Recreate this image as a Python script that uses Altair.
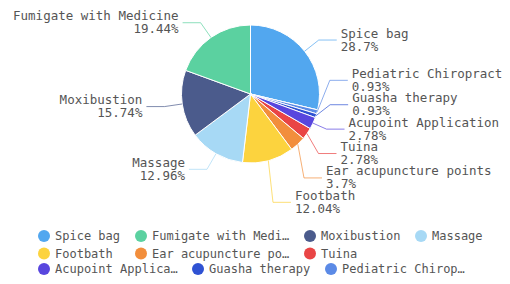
import math
import altair as alt
import pandas as pd

# ---- data ----
names = ["Spice bag", "Fumigate with Medicine", "Moxibustion", "Massage", "Footbath",
         "Ear acupuncture points", "Tuina", "Acupoint Application", "Guasha therapy",
         "Pediatric Chiropractic"]
percents = [28.7, 19.44, 15.74, 12.96, 12.04, 3.7, 2.78, 2.78, 0.93, 0.93]
colors = ["#52a7ef", "#5bd1a0", "#4b5b8c", "#a7d9f5", "#fcd33e",
          "#f28e3c", "#e94545", "#5846de", "#2f52d3", "#5b8ae6"]

# ---- layout constants ----
W, H = 494, 268
CX, CY, R = 242.5, 86.0, 69.0
LEN1, LEN2, GAP = 18.0, 18.0, 4.0
BLOCK = 24.4          # height of a two-line label block
ELLIPSE_RA = R + 11   # horizontal radius used when shifted labels are re-aligned
FONT = "DejaVu Sans Mono"
TEXT_COLOR = "#555555"

n = len(names)
total = sum(percents)
draw_order = [(-i) % n for i in range(n)]  # Spice bag first, then the rest reversed (clockwise)

df = pd.DataFrame({"name": names, "pct": percents, "ord": draw_order})
df["pct_label"] = [f"{v:g}%" for v in percents]
df = df.sort_values("ord").reset_index(drop=True)
df["t1"] = df["pct"].cumsum()
df["t0"] = df["t1"] - df["pct"]

rows = []
for _, r in df.iterrows():
    a = (r.t0 + r.t1) / 2 / total * 2 * math.pi
    s, c = math.sin(a), math.cos(a)
    rows.append(dict(name=r["name"], sx=CX + R * s, sy=CY - R * c,
                     dir=1 if s >= 0 else -1,
                     lx=CX + (R + LEN1) * s, ly0=CY - (R + LEN1) * c))
lab = pd.DataFrame(rows)


def spread(ys, h):
    clusters = [[y] for y in ys]
    def bounds(cl):
        m = sum(cl) / len(cl)
        return m - (len(cl) - 1) * h / 2, m + (len(cl) - 1) * h / 2
    merged = True
    while merged:
        merged = False
        for k in range(len(clusters) - 1):
            if bounds(clusters[k + 1])[0] - bounds(clusters[k])[1] < h:
                clusters[k] = clusters[k] + clusters[k + 1]
                del clusters[k + 1]
                merged = True
                break
    out = []
    for cl in clusters:
        m = sum(cl) / len(cl)
        for j in range(len(cl)):
            out.append(m + (j - (len(cl) - 1) / 2) * h)
    return out


lab["ly"] = lab["ly0"]
lab["x1"] = lab["lx"]
for side in (1, -1):
    idx = lab.index[lab["dir"] == side]
    sub = lab.loc[idx].sort_values("ly0")
    new_y = spread(list(sub["ly0"]), BLOCK)
    lab.loc[sub.index, "ly"] = new_y
    moved = [i for i in sub.index if abs(lab.at[i, "ly"] - lab.at[i, "ly0"]) > 0.01]
    if not moved:
        continue
    for semi in (True, False):
        members = [i for i in sub.index if (lab.at[i, "ly"] > CY) == semi]
        if not members:
            continue
        ext = max(members, key=lambda i: abs(lab.at[i, "ly"] - CY))
        dy = abs(lab.at[ext, "ly"] - CY)
        dx0 = abs(lab.at[ext, "lx"] - CX)
        rB = dy / math.sqrt(1 - dx0 ** 2 / ELLIPSE_RA ** 2) if dx0 < ELLIPSE_RA else ELLIPSE_RA
        for i in members:
            if i in moved:
                d = abs(lab.at[i, "ly"] - CY)
                lab.at[i, "x1"] = CX + side * math.sqrt(max(0.0, 1 - d * d / (rB * rB))) * ELLIPSE_RA

lab["x2"] = lab["x1"] + lab["dir"] * LEN2
lab["tx"] = lab["x1"] + lab["dir"] * (LEN2 + GAP)
lab = lab.merge(df[["name", "pct_label"]], on="name")

pts = []
for _, r in lab.iterrows():
    for k, (px, py) in enumerate([(r.sx, r.sy), (r.x1, r.ly), (r.x2, r.ly)]):
        pts.append(dict(name=r["name"], k=k, x=px, y=py))
lines_df = pd.DataFrame(pts)

# ---- scales ----
xs = alt.Scale(domain=[0, W], nice=False, zero=False)
ys = alt.Scale(domain=[0, H], nice=False, zero=False, reverse=True)
theta_scale = alt.Scale(domain=[0, total], range=[0, 2 * math.pi])


def legend_cfg(values, y, cols, limit):
    return alt.Legend(title=None, orient="none", direction="horizontal",
                      legendX=30, legendY=y, columns=cols,
                      gridAlign="none", symbolType="circle", symbolSize=144,
                      symbolStrokeWidth=0, symbolOpacity=1, labelFont=FONT,
                      labelFontSize=12, labelColor=TEXT_COLOR, labelLimit=limit,
                      columnPadding=14, rowPadding=5.5, labelOffset=5, padding=0,
                      values=values)


arc_a = alt.Chart(df).mark_arc(outerRadius=R, stroke="white", strokeWidth=1).encode(
    theta=alt.Theta("t0:Q", scale=theta_scale), theta2="t1:Q",
    color=alt.Color("name:N", scale=alt.Scale(domain=names, range=colors),
                    legend=legend_cfg(names[:7], 222, 4, 138)),
    x=alt.value(CX), y=alt.value(CY))

arc_b = alt.Chart(df).transform_filter(
    alt.FieldOneOfPredicate(field="name", oneOf=names[7:])
).mark_arc(outerRadius=R, stroke="white", strokeWidth=1).encode(
    theta=alt.Theta("t0:Q", scale=theta_scale), theta2="t1:Q",
    fill=alt.Fill("name:N", scale=alt.Scale(domain=names[7:], range=colors[7:]),
                  legend=legend_cfg(names[7:], 255, 3, 125)),
    x=alt.value(CX), y=alt.value(CY))

lines = alt.Chart(lines_df).mark_line(strokeWidth=1, opacity=0.7).encode(
    x=alt.X("x:Q", scale=xs, axis=None), y=alt.Y("y:Q", scale=ys, axis=None),
    detail="name:N", order="k:Q",
    stroke=alt.Stroke("name:N", scale=alt.Scale(domain=names, range=colors), legend=None))


def text_layer(side, field, dy):
    return alt.Chart(lab).transform_filter(f"datum.dir == {side}").mark_text(
        align="left" if side == 1 else "right", baseline="middle", dy=dy,
        font=FONT, fontSize=12.5, color=TEXT_COLOR
    ).encode(x=alt.X("tx:Q", scale=xs, axis=None), y=alt.Y("ly:Q", scale=ys, axis=None),
             text=f"{field}:N")


texts = [text_layer(s, f, d) for s in (1, -1) for f, d in (("name", -6.5), ("pct_label", 6.5))]

chart = alt.layer(arc_a, arc_b, lines, *texts).resolve_scale(
    color="independent", fill="independent", stroke="independent"
).properties(
    width=W, height=H, padding=0, autosize=alt.AutoSizeParams(type="none"),
    background="white"
).configure_view(stroke=None)

chart.save("out.html", embed_options={"renderer": "svg", "actions": False})
